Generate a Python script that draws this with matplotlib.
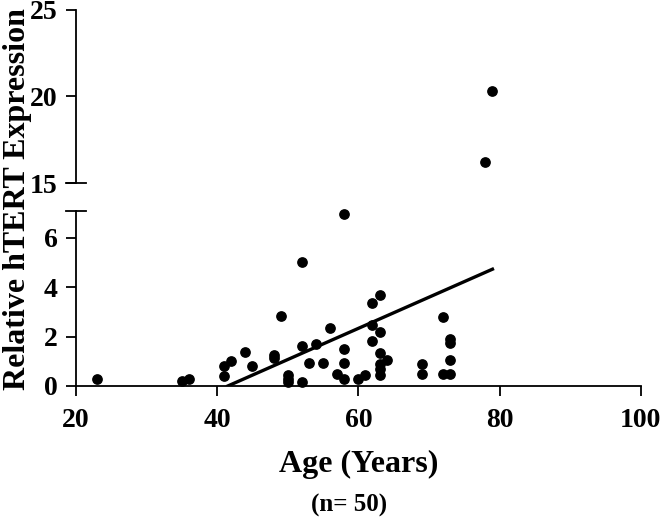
import matplotlib
matplotlib.use('Agg')
import matplotlib.pyplot as plt
import numpy as np

plt.rcParams['font.family'] = 'Liberation Serif'
plt.rcParams['font.weight'] = 'bold'

# age (years) and relative hTERT expression
age = [23, 35, 36, 41, 41, 42, 44, 45, 48, 48, 49, 50, 50, 50, 52, 52, 52,
       53, 54, 55, 56, 57, 58, 58, 58, 58, 60, 61, 62, 62, 62, 63, 63, 63,
       63, 63, 63, 64, 69, 69, 72, 72, 73, 73, 73, 73, 78, 79]
expr = [0.28, 0.2, 0.28, 0.82, 0.4, 1.02, 1.38, 0.82, 1.25, 1.15, 2.85,
        0.45, 0.3, 0.15, 5.0, 1.6, 0.15, 0.92, 1.7, 0.95, 2.35, 0.5, 6.95,
        1.5, 0.95, 0.3, 0.3, 0.45, 3.35, 2.45, 1.8, 3.7, 2.2, 1.35, 0.9,
        0.7, 0.45, 1.05, 0.9, 0.5, 2.8, 0.5, 1.9, 1.75, 1.05, 0.5, 16.2, 20.3]

# regression line
fit_slope = 0.126
fit_intercept = -5.23
fit_x = [41.5, 79.0]

xticks = [20, 40, 60, 80, 100]
low_ticks = [0, 2, 4, 6]
high_ticks = [15, 20, 25]
low_max = 7.08
high_min = 15

age = np.array(age)
expr = np.array(expr)
lo = expr <= low_max
hi = expr >= high_min

fig = plt.figure(figsize=(6.62, 5.17), dpi=100)
ax_lo = fig.add_axes([0.1148, 0.2534, 0.853, 0.3386])
ax_hi = fig.add_axes([0.1148, 0.646, 0.853, 0.335])

fx = np.array(fit_x)
fy = fit_slope * fx + fit_intercept

ax_lo.scatter(age[lo], expr[lo], s=45, color='black', zorder=3, clip_on=False)
ax_lo.plot(fx, fy, color='black', lw=2.4)
ax_hi.scatter(age[hi], expr[hi], s=45, color='black', zorder=3, clip_on=False)

for ax in (ax_lo, ax_hi):
    ax.set_xlim(20, 100)
    for s in ('top', 'right'):
        ax.spines[s].set_visible(False)
    ax.spines['left'].set_linewidth(1.3)
    ax.spines['bottom'].set_linewidth(1.3)
    ax.tick_params(direction='out', length=7, width=1.3, labelsize=20, pad=6)

ax_lo.set_ylim(0, low_max)
ax_lo.set_yticks(low_ticks)
ax_lo.set_xticks(xticks)
ax_lo.tick_params(axis='x', pad=9)
ax_lo.set_xlabel('Age (Years)', fontsize=23, fontweight='bold', labelpad=12)

ax_hi.set_ylim(high_min, 25)
ax_hi.set_yticks(high_ticks)
ax_hi.spines['bottom'].set_visible(False)
ax_hi.set_xticks([])

# break marks crossing the y axis
ax_lo.plot([-0.017, 0.017], [1, 1], color='black', lw=1.3,
           transform=ax_lo.transAxes, clip_on=False)
ax_hi.plot([-0.017, 0.017], [0, 0], color='black', lw=1.3,
           transform=ax_hi.transAxes, clip_on=False)

fig.text(0.026, 0.615, 'Relative hTERT Expression', rotation=90, fontsize=23,
         fontweight='bold', ha='center', va='center')
fig.text(0.528, 0.022, '(n= 50)', fontsize=18, fontweight='bold',
         ha='center', va='center')

fig.savefig('out.png', dpi=100)
